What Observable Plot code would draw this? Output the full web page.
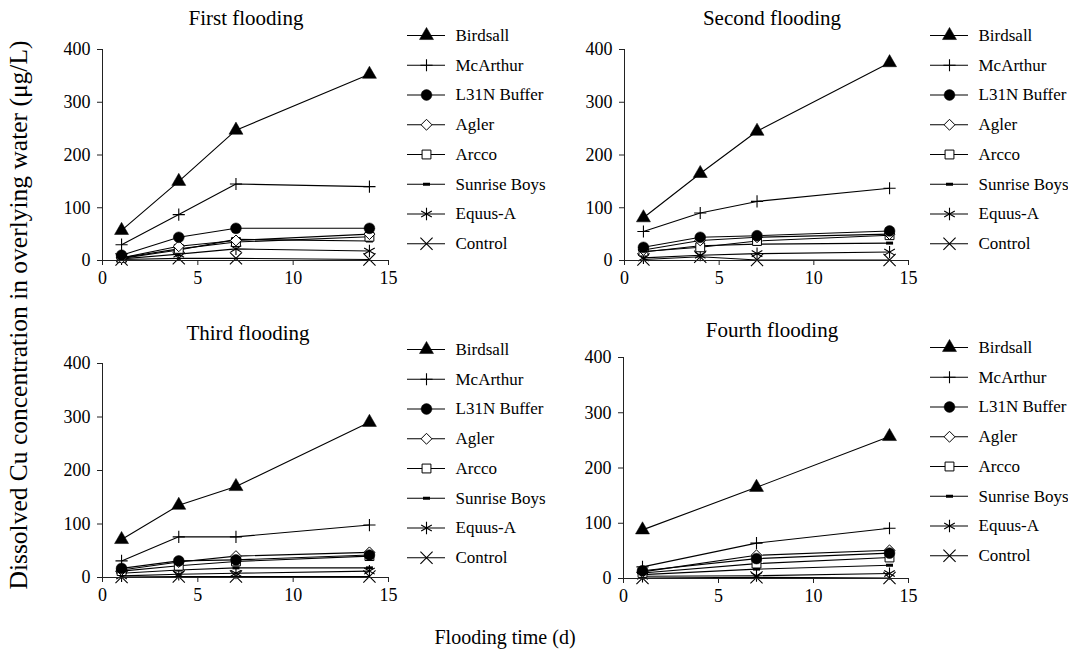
<!DOCTYPE html>
<html><head><meta charset="utf-8">
<script src="https://cdn.jsdelivr.net/npm/d3@7"></script>
<script src="https://cdn.jsdelivr.net/npm/@observablehq/plot@0.6"></script>
<style>
body{margin:0;background:#fff;}
#chart{position:relative;width:1068px;height:657px;font-family:"Liberation Serif","Times New Roman",serif;color:#000;overflow:hidden;}
#chart svg, #chart svg text{font-family:"Liberation Serif","Times New Roman",serif !important;}
.abs{position:absolute;line-height:1;white-space:nowrap;}
</style></head><body><div id="chart"></div>
<script>
// ---- data ----
const series = ["Birdsall","McArthur","L31N Buffer","Agler","Arcco","Sunrise Boys","Equus-A","Control"];
const titles = ["First flooding","Second flooding","Third flooding","Fourth flooding"];
const yTicks = [0,100,200,300,400];
const xTicks = [0,5,10,15];
const daysFirst = [1,4,7,14];
const daysSecond = [1,4,7,14];
const daysThird = [1,4,7,14];
const daysFourth = [1,7,14];
// rows in series order
const firstFlooding = [
  [57,150,247,353],
  [30,87,145,140],
  [10,44,61,61],
  [5,27,38,50],
  [5,22,35,45],
  [4,20,40,37],
  [3,12,22,18],
  [2,4,4,2]
];
const secondFlooding = [
  [81,165,245,375],
  [55,90,112,137],
  [25,44,47,56],
  [20,38,44,50],
  [17,25,37,48],
  [16,28,31,33],
  [5,10,13,16],
  [2,7,1,1]
];
const thirdFlooding = [
  [71,135,170,290],
  [31,76,76,98],
  [17,31,33,42],
  [14,29,40,47],
  [12,22,30,40],
  [8,14,18,18],
  [3,6,8,12],
  [1,2,2,2]
];
const fourthFlooding = [
  [88,165,257],
  [21,64,91],
  [14,36,46],
  [12,42,51],
  [10,27,38],
  [7,17,24],
  [4,5,9],
  [1,2,1]
];
const allValues = [firstFlooding, secondFlooding, thirdFlooding, fourthFlooding];
const allDays = [daysFirst, daysSecond, daysThird, daysFourth];

// ---- styles ----
const dash = {draw(ctx){ ctx.rect(-3.5,-1.5,7,3); }};
const styles = {
  "Birdsall":     {symbol:"triangle", r:5.2, fill:"black", stroke:"black", sw:0.5},
  "McArthur":     {symbol:"plus", r:4, fill:"none", stroke:"black", sw:1.1},
  "L31N Buffer":  {symbol:"circle", r:5.4, fill:"black", stroke:"black", sw:0.5},
  "Agler":        {symbol:"diamond2", r:4.9, fill:"white", stroke:"black", sw:1},
  "Arcco":        {symbol:"square", r:5, fill:"white", stroke:"black", sw:1},
  "Sunrise Boys": {symbol:dash, r:3, fill:"black", stroke:"none", sw:0},
  "Equus-A":      {symbol:"asterisk", r:5.8, fill:"none", stroke:"black", sw:1.1},
  "Control":      {symbol:"times", r:5.6, fill:"none", stroke:"black", sw:1.1}
};
const FONT = "font-family:'Liberation Serif','Times New Roman',serif;font-size:17px;background:transparent;color:black;overflow:visible;";

const chart = document.getElementById("chart");
function place(el, left, top){ el.style.position="absolute"; el.style.left=left+"px"; el.style.top=top+"px"; chart.appendChild(el); }
function label(text, x, y, size, rotate){
  const d = document.createElement("div");
  d.className = "abs";
  d.textContent = text;
  d.style.left = x+"px"; d.style.top = y+"px"; d.style.fontSize = size+"px";
  d.style.transform = "translate(-50%,-50%)" + (rotate ? " rotate(-90deg)" : "");
  chart.appendChild(d);
}

const frames = [
  [102,388,49,260],
  [624,908,49,260],
  [102,388,363,577],
  [623,908,357,578]
];

function panel(idx){
  const [x0,x1,y0,y1] = frames[idx];
  const ml=70, mr=20, mt=12, mb=40;
  const data = [];
  allValues[idx].forEach((vals,si)=>vals.forEach((v,i)=>data.push({series:series[si], day:allDays[idx][i], value:v})));
  const order = series.slice().reverse();
  const marks = [
    Plot.line(data,{x:"day",y:"value",z:"series",stroke:"black",strokeWidth:1.1}),
    ...order.map(s=>{ const st=styles[s]; return Plot.dot(data.filter(d=>d.series===s),{x:"day",y:"value",symbol:st.symbol,r:st.r,fill:st.fill,stroke:st.stroke,strokeWidth:st.sw}); }),
    Plot.ruleX([0],{y1:0,y2:400,stroke:"#222",strokeWidth:1}),
    Plot.ruleY([0],{x1:0,x2:15,stroke:"#222",strokeWidth:1}),
    Plot.axisY({ticks:yTicks, tickSize:5, tickPadding:7, tickFormat:d=>String(d), stroke:"#222", fontSize:18}),
    Plot.axisX({ticks:xTicks, tickSize:5, tickPadding:6, tickFormat:d=>String(d), stroke:"#222", fontSize:18})
  ];
  const p = Plot.plot({
    width: ml+(x1-x0)+mr, height: mt+(y1-y0)+mb,
    marginLeft:ml, marginRight:mr, marginTop:mt, marginBottom:mb,
    x:{domain:[0,15], label:null}, y:{domain:[0,400], label:null},
    style: FONT,
    marks
  });
  place(p, x0-ml, y0-mt);
}

function legend(left, firstY){
  const step = 29.75, mt = 12;
  const h = mt*2 + step*7;
  const rows = series.map((s,i)=>({name:s, row:i}));
  const p = Plot.plot({
    width:190, height:h, margin:0,
    x:{domain:[0,190], range:[0,190], axis:null},
    y:{domain:[0,7], range:[mt, mt+step*7], axis:null},
    style: FONT,
    marks:[
      Plot.ruleY(rows,{y:"row", x1:0, x2:38, stroke:"black", strokeWidth:1.1}),
      ...rows.map(r=>{ const st=styles[r.name]; return Plot.dot([r],{x:()=>19, y:"row", symbol:st.symbol, r:st.r, fill:st.fill, stroke:st.stroke, strokeWidth:st.sw}); }),
      Plot.text(rows,{x:()=>48, y:"row", text:"name", textAnchor:"start", fill:"black", fontSize:17})
    ]
  });
  place(p, left, firstY-mt);
}

[0,1,2,3].forEach(panel);
legend(407,35); legend(930,35); legend(407,349); legend(930,347);

label(titles[0],246,18,21);
label(titles[1],772,18,21);
label(titles[2],248,333,21);
label(titles[3],772,330,21);
label("Flooding time (d)",505,637,20);
label("Dissolved Cu concentration in overlying water (μg/L)",19,315,25.5,true);
</script></body></html>
